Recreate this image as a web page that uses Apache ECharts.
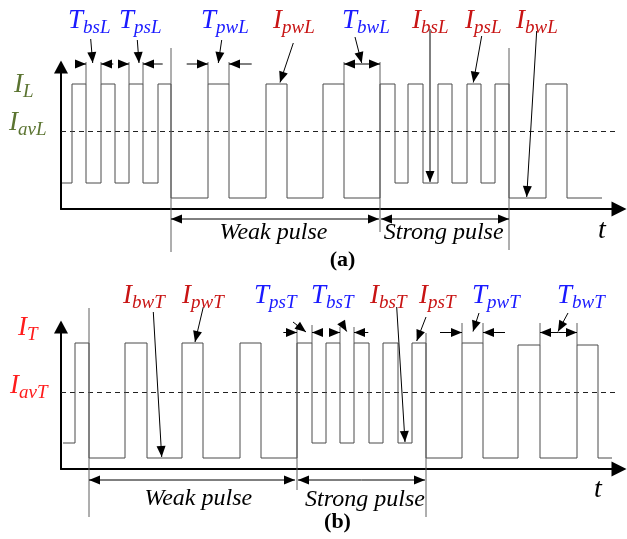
<!DOCTYPE html>
<html>
<head>
<meta charset="utf-8">
<title>Pulse current waveforms</title>
<script src="https://cdn.jsdelivr.net/npm/echarts@6/dist/echarts.min.js"></script>
<style>
  html, body { margin: 0; padding: 0; background: #fff; }
  #main { width: 627px; height: 539px; }
</style>
</head>
<body>
<div id="main"></div>
<script>
// ---- waveform data (time units along t, current units up) ----
// panel (a): switching instants and the level held between them
var edgesA = [1, 11, 25, 40, 54, 68, 82, 97, 110, 147, 168, 205, 226, 262, 283, 319, 334, 347, 362, 377, 391, 406, 420, 434, 448, 485, 506, 541];
var levelsA = [26, 125, 26, 125, 26, 125, 26, 125, 11, 125, 11, 125, 11, 125, 11, 125, 26, 125, 26, 125, 26, 125, 26, 125, 11, 125, 11];
var avgA = 77.5;
// panel (b)
var edgesB = [2, 14, 28, 64, 86, 121, 142, 179, 200, 236, 251, 265, 279, 293, 308, 322, 337, 351, 365, 401, 422, 457, 479, 516, 537, 551];
var levelsB = [26, 126, 11, 126, 11, 126, 11, 126, 11, 126, 26, 126, 26, 126, 26, 126, 26, 126, 11, 126, 11, 124, 11, 124, 11];
var avgB = 76.5;
var avgEnd = 556;

// ---- annotations (same units) ----
// thin guide lines: [t, fromLevel, toLevel]
var guidesA = [[110, 161, -43], [319, 147, -23], [448, 161, -41], [25, 147, 125], [40, 147, 125], [68, 147, 125], [82, 147, 125], [147, 147, 125], [168, 147, 125], [283, 147, 125]];
var guidesB = [[28, 161, -48], [236, 144, -21], [365, 136, -48], [251, 144, 126], [279, 142, 126], [293, 142, 126], [401, 146, 126], [422, 146, 126], [479, 146, 124], [516, 146, 124]];
// width markers: [from, tip] along the dimension level
var dimLevelA = 145, dimLevelB = 136.5;
var dimsA = [[15.7, 25], [52.3, 40], [58.3, 68], [101.7, 82], [125.7, 147], [190.7, 168], [301, 283], [301, 319]];
var dimsB = [[222.3, 236], [262, 251], [268.3, 279], [307.3, 293], [379, 401], [444, 422], [497.5, 479], [497.5, 516]];
// weak / strong spans
var spanLevelA = -10, spanLevelB = -11;
var spansA = [[214, 110], [214, 318], [384, 320], [384, 448]];
var spansB = [[131, 28], [131, 234], [300.5, 237], [300.5, 364]];
// label pointers: [fromT, fromV, tipT, tipV]
var pointersA = [[29.7, 170, 31.7, 146], [76.3, 169, 78, 146], [160.7, 169, 157.3, 146], [232.3, 166, 219, 126.5], [294, 172, 300.7, 146], [369, 180, 369, 27], [420.7, 173, 412.3, 126.5], [475.7, 178, 465.7, 12]];
var pointersB = [[92.3, 157, 100.7, 12], [142.3, 162, 134, 127], [232, 147, 245, 137], [280.7, 146, 285.7, 137.5], [335.7, 162, 344, 27], [365, 152, 355.7, 128], [418, 156, 412, 137.5], [507, 156, 497, 137.5]];
// symbol labels: [main, subscript, kind, left t, baseline v]
var symbolsA = [['T', 'bsL', 'time', 7, 179], ['T', 'psL', 'time', 58, 179], ['T', 'pwL', 'time', 140, 179], ['I', 'pwL', 'cur', 212, 179], ['T', 'bwL', 'time', 281, 179], ['I', 'bsL', 'cur', 351, 179], ['I', 'psL', 'cur', 404, 179], ['I', 'bwL', 'cur', 455, 179], ['I', 'L', 'axisA', -47, 115], ['I', 'avL', 'axisA', -52, 77]];
var symbolsB = [['I', 'bwT', 'cur', 62, 164], ['I', 'pwT', 'cur', 121, 164], ['T', 'psT', 'time', 193, 164], ['T', 'bsT', 'time', 250, 164], ['I', 'bsT', 'cur', 309, 164], ['I', 'psT', 'cur', 358, 164], ['T', 'pwT', 'time', 411, 164], ['T', 'bwT', 'time', 496, 164], ['I', 'T', 'axisB', -43, 132], ['I', 'avT', 'axisB', -51, 74]];
// plain words: [text, kind, centre t, v]
var wordsA = [['Weak pulse', 'span', 212.5, -32], ['Strong pulse', 'span', 382.7, -32], ['(a)', 'tag', 281.5, -51], ['t', 'tvar', 541, -22]];
var wordsB = [['Weak pulse', 'span', 137.3, -37.7], ['Strong pulse', 'span', 304, -38.5], ['(b)', 'tag', 276.5, -53], ['t', 'tvar', 537, -21]];

var COLORS = { time: '#1a1aff', cur: '#c81414', axisA: '#5b7431', axisB: '#ff1c1c' };
var SERIF = '"Liberation Serif", "Times New Roman", serif';
var WAVE = '#4a4a4a', GUIDE = '#5e5e5e';

var measureCtx = document.createElement('canvas').getContext('2d');
function textWidth(str, font) { measureCtx.font = font; return measureCtx.measureText(str).width; }

function steps(edges, levels) {
  var d = [];
  for (var i = 0; i < levels.length; i++) {
    d.push([edges[i], levels[i]]);
    d.push([edges[i + 1], levels[i]]);
  }
  return d;
}

function seg(p, q, color) {
  return { type: 'line', shape: { x1: p[0], y1: p[1], x2: q[0], y2: q[1] }, style: { stroke: color, lineWidth: 1 } };
}
function head(tip, from, len, wid) {
  var dx = tip[0] - from[0], dy = tip[1] - from[1];
  var d = Math.sqrt(dx * dx + dy * dy) || 1;
  var ux = dx / d, uy = dy / d;
  var bx = tip[0] - ux * len, by = tip[1] - uy * len;
  return { type: 'polygon', shape: { points: [tip, [bx - uy * wid / 2, by + ux * wid / 2], [bx + uy * wid / 2, by - ux * wid / 2]] }, style: { fill: '#000' } };
}
function arrow(from, tip, out) {
  out.push(seg(from, tip, '#000'));
  out.push(head(tip, from, 11, 9));
}
function txt(str, x, y, font, color, align) {
  return { type: 'text', x: x, y: y, style: { text: str, font: font, fill: color, align: align, verticalAlign: 'middle' } };
}

function annotate(guides, dims, dimLevel, spans, spanLevel, pointers, symbols, words) {
  return function (params, api) {
    var out = [];
    guides.forEach(function (g) {
      out.push(seg(api.coord([g[0], g[1]]), api.coord([g[0], g[2]]), GUIDE));
    });
    dims.forEach(function (m) {
      arrow(api.coord([m[0], dimLevel]), api.coord([m[1], dimLevel]), out);
    });
    spans.forEach(function (m) {
      arrow(api.coord([m[0], spanLevel]), api.coord([m[1], spanLevel]), out);
    });
    pointers.forEach(function (p) {
      arrow(api.coord([p[0], p[1]]), api.coord([p[2], p[3]]), out);
    });
    var mainFont = 'italic 27px ' + SERIF, subFont = 'italic 19px ' + SERIF;
    symbols.forEach(function (s) {
      var base = api.coord([s[3], s[4]]);
      var color = COLORS[s[2]];
      var w = textWidth(s[0], mainFont);
      out.push(txt(s[0], base[0], base[1] - 0.3375 * 27, mainFont, color, 'left'));
      out.push(txt(s[1], base[0] + w, base[1] + 4 - 0.3375 * 19, subFont, color, 'left'));
    });
    words.forEach(function (wd) {
      var p = api.coord([wd[2], wd[3]]);
      var font, y = p[1];
      if (wd[1] === 'span') { font = 'italic 24px ' + SERIF; y -= 0.3375 * 24; }
      else if (wd[1] === 'tag') { font = 'bold 22px ' + SERIF; }
      else { font = 'italic 28px ' + SERIF; }
      out.push(txt(wd[0], p[0], y, font, '#000', 'center'));
    });
    return { type: 'group', children: out };
  };
}

function xAxisFor(i) {
  return {
    gridIndex: i, type: 'value', min: 0, max: 558,
    axisLine: { show: true, onZero: false, symbol: ['none', 'triangle'], symbolSize: [15, 15], lineStyle: { color: '#000', width: 2 } },
    axisTick: { show: false }, axisLabel: { show: false }, splitLine: { show: false }
  };
}
function yAxisFor(i) {
  return {
    gridIndex: i, type: 'value', min: 0, max: 142,
    axisLine: { show: true, onZero: false, symbol: ['none', 'triangle'], symbolSize: [14, 13], lineStyle: { color: '#000', width: 2 } },
    axisTick: { show: false }, axisLabel: { show: false }, splitLine: { show: false }
  };
}
function waveSeries(i, data) {
  return { type: 'line', xAxisIndex: i, yAxisIndex: i, data: data, symbol: 'none', clip: false, silent: true, lineStyle: { color: WAVE, width: 1 }, z: 3 };
}
function avgSeries(i, level) {
  return { type: 'line', xAxisIndex: i, yAxisIndex: i, data: [[0, level], [avgEnd, level]], symbol: 'none', clip: false, silent: true, lineStyle: { color: '#222', width: 1, type: [5, 4] }, z: 2 };
}

var chart = echarts.init(document.getElementById('main'), null, { renderer: 'canvas' });
chart.setOption({
  animation: false,
  backgroundColor: '#fff',
  grid: [
    { left: 61, top: 67, width: 558, height: 142 },
    { left: 61, top: 327, width: 558, height: 142 }
  ],
  xAxis: [xAxisFor(0), xAxisFor(1)],
  yAxis: [yAxisFor(0), yAxisFor(1)],
  series: [
    waveSeries(0, steps(edgesA, levelsA)),
    waveSeries(1, steps(edgesB, levelsB)),
    avgSeries(0, avgA),
    avgSeries(1, avgB),
    { type: 'custom', xAxisIndex: 0, yAxisIndex: 0, data: [[0, 0]], silent: true, z: 5,
      renderItem: annotate(guidesA, dimsA, dimLevelA, spansA, spanLevelA, pointersA, symbolsA, wordsA) },
    { type: 'custom', xAxisIndex: 1, yAxisIndex: 1, data: [[0, 0]], silent: true, z: 5,
      renderItem: annotate(guidesB, dimsB, dimLevelB, spansB, spanLevelB, pointersB, symbolsB, wordsB) }
  ]
});
</script>
</body>
</html>
